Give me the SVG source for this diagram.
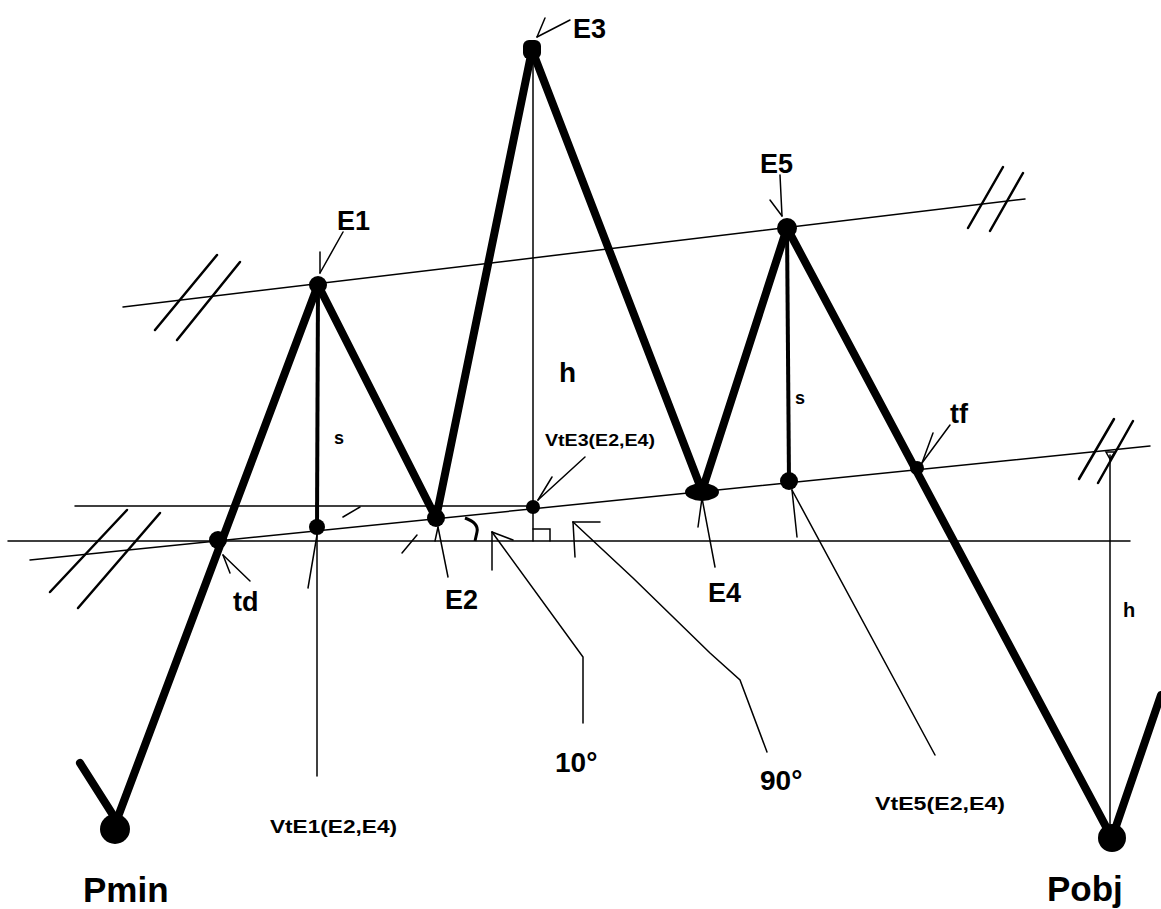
<svg xmlns="http://www.w3.org/2000/svg" width="1161" height="909" viewBox="0 0 1161 909">
<style>
.thin{stroke:#000;stroke-width:1.5;fill:none;stroke-linecap:round}
.thick{stroke:#000;stroke-width:8;fill:none;stroke-linejoin:round;stroke-linecap:round}
.mid{stroke:#000;stroke-width:4;fill:none}
.hatch{stroke:#000;stroke-width:2.5;fill:none;stroke-linecap:round}
.dot{fill:#000}
.lb{font-family:"Liberation Sans",Arial,sans-serif;font-weight:bold;fill:#000}
</style>
<rect width="1161" height="909" fill="#fff"/>
<g id="connectors">
  <!-- reference lines -->
  <line class="thin" x1="8" y1="541" x2="1130" y2="541"/>
  <line class="thin" x1="75" y1="506" x2="533" y2="506"/>
  <line class="thin" x1="30" y1="560" x2="1150" y2="446"/>
  <line class="thin" x1="123" y1="307" x2="1025" y2="199"/>
  <!-- hatches -->
  <line class="hatch" x1="50" y1="592" x2="127" y2="510"/>
  <line class="hatch" x1="78" y1="608" x2="160" y2="513"/>
  <line class="hatch" x1="155" y1="330" x2="217" y2="255"/>
  <line class="hatch" x1="177" y1="340" x2="240" y2="262"/>
  <line class="hatch" x1="968" y1="228" x2="1003" y2="167"/>
  <line class="hatch" x1="990" y1="231" x2="1023" y2="173"/>
  <line class="hatch" x1="1079" y1="479" x2="1114" y2="419"/>
  <line class="hatch" x1="1098" y1="483" x2="1133" y2="421"/>
  <!-- small ticks -->
  <line class="thin" x1="343" y1="517" x2="360" y2="507"/>
  <line class="thin" x1="402" y1="553" x2="417" y2="535"/>
  <!-- verticals -->
  <line class="mid" x1="318" y1="285" x2="317" y2="527"/>
  <line class="thin" x1="317" y1="527" x2="317" y2="776"/>
  <line class="thin" x1="533" y1="48" x2="533" y2="541"/>
  <path class="thin" d="M533,529 H550 V541"/>
  <line class="mid" x1="787" y1="227" x2="789" y2="481"/>
  <line class="thin" x1="1110" y1="455" x2="1110" y2="838"/>
  <path class="thin" d="M1106,452 L1115,452 L1110,459 Z"/>
  <!-- main zigzag -->
  <polyline class="thick" points="113,830 318,285 436,518 532,50 702,491 787,228 1112,838 1161,695"/>
  <line class="thick" x1="80" y1="763" x2="113" y2="815"/>
  <!-- angle arc -->
  <path d="M465,518 Q479,523 477,532 L475,541" stroke="#000" stroke-width="3" fill="none"/>
  <!-- leaders -->
  <polyline class="thin" points="583,723 583,657 492,532"/>
  <line class="thin" x1="492" y1="532" x2="513" y2="540"/>
  <line class="thin" x1="492" y1="532" x2="492" y2="570"/>
  <polyline class="thin" points="767,752 740,680 710,653 633,578 573,522"/>
  <line class="thin" x1="573" y1="522" x2="600" y2="522"/>
  <line class="thin" x1="573" y1="522" x2="575" y2="557"/>
  <line class="thin" x1="317" y1="535" x2="308" y2="588"/>
  <line class="thin" x1="250" y1="581" x2="223" y2="555"/>
  <line class="thin" x1="223" y1="555" x2="230" y2="573"/>
  <line class="thin" x1="438" y1="527" x2="448" y2="577"/>
  <line class="thin" x1="438" y1="527" x2="435" y2="541"/>
  <line class="thin" x1="702" y1="498" x2="715" y2="567"/>
  <line class="thin" x1="702" y1="498" x2="698" y2="527"/>
  <line class="thin" x1="792" y1="490" x2="935" y2="755"/>
  <line class="thin" x1="792" y1="490" x2="797" y2="537"/>
  <line class="thin" x1="950" y1="425" x2="922" y2="463"/>
  <line class="thin" x1="922" y1="463" x2="933" y2="433"/>
  <line class="thin" x1="320" y1="273" x2="343" y2="232"/>
  <line class="thin" x1="320" y1="273" x2="320" y2="252"/>
  <line class="thin" x1="537" y1="37" x2="570" y2="20"/>
  <line class="thin" x1="537" y1="37" x2="545" y2="18"/>
  <line class="thin" x1="782" y1="216" x2="780" y2="175"/>
  <line class="thin" x1="782" y1="216" x2="770" y2="200"/>
  <line class="thin" x1="538" y1="500" x2="585" y2="457"/>
  <line class="thin" x1="538" y1="500" x2="552" y2="477"/>
</g>
<g id="Pmin"><circle class="dot" cx="115" cy="829" r="15"/><text class="lb" x="83" y="902" font-size="35">Pmin</text></g>
<g id="td"><circle class="dot" cx="218" cy="540" r="9"/><text class="lb" x="233" y="611" font-size="27">td</text></g>
<g id="E1"><circle class="dot" cx="318" cy="285" r="9"/><text class="lb" x="337" y="230" font-size="27">E1</text></g>
<g id="VtE1"><circle class="dot" cx="317" cy="527" r="8"/><text class="lb" x="270" y="833" font-size="19" textLength="127" lengthAdjust="spacingAndGlyphs">VtE1(E2,E4)</text></g>
<g id="s1"><text class="lb" x="334" y="444" font-size="18">s</text></g>
<g id="E2"><circle class="dot" cx="436" cy="518" r="9"/><text class="lb" x="445" y="609" font-size="27">E2</text></g>
<g id="E3"><rect class="dot" x="523" y="40" width="18" height="19" rx="6"/><text class="lb" x="573" y="38" font-size="27">E3</text></g>
<g id="h1"><text class="lb" x="559" y="382" font-size="28">h</text></g>
<g id="VtE3"><circle class="dot" cx="533" cy="507" r="7"/><text class="lb" x="545" y="446" font-size="17" textLength="110" lengthAdjust="spacingAndGlyphs">VtE3(E2,E4)</text></g>
<g id="a10"><text class="lb" x="555" y="772" font-size="28">10°</text></g>
<g id="a90"><text class="lb" x="760" y="790" font-size="28">90°</text></g>
<g id="E4"><ellipse class="dot" cx="702" cy="492" rx="17" ry="9"/><text class="lb" x="708" y="602" font-size="27">E4</text></g>
<g id="E5"><circle class="dot" cx="787" cy="228" r="10"/><text class="lb" x="760" y="173" font-size="27">E5</text></g>
<g id="s2"><text class="lb" x="795" y="404" font-size="18">s</text></g>
<g id="VtE5"><circle class="dot" cx="789" cy="481" r="9"/><text class="lb" x="875" y="810" font-size="19" textLength="130" lengthAdjust="spacingAndGlyphs">VtE5(E2,E4)</text></g>
<g id="tf"><circle class="dot" cx="917" cy="468" r="7"/><text class="lb" x="950" y="423" font-size="27">tf</text></g>
<g id="h2"><text class="lb" x="1123" y="617" font-size="20">h</text></g>
<g id="Pobj"><circle class="dot" cx="1112" cy="838" r="14"/><text class="lb" x="1047" y="901" font-size="35">Pobj</text></g>
</svg>
